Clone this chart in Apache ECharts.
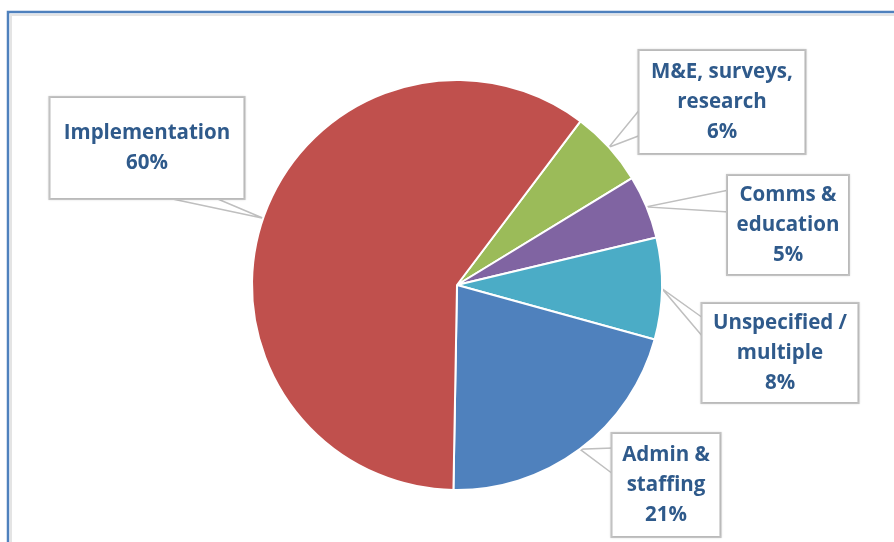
<!DOCTYPE html>
<html>
<head>
<meta charset="utf-8">
<script src="https://cdn.jsdelivr.net/npm/echarts@6/dist/echarts.min.js"></script>
<style>
  html, body { margin: 0; padding: 0; background: #fff; }
  #chart { width: 894px; height: 542px; }
</style>
</head>
<body>
<div id="chart"></div>
<script>
// Budget share by activity type (percent), listed clockwise from the top-right
const categories = ['M&E, surveys,\nresearch', 'Comms &\neducation', 'Unspecified /\nmultiple', 'Admin &\nstaffing', 'Implementation'];
const shares = [6, 5, 8, 21, 60];
const colors = ['#9BBB59', '#8064A2', '#4BACC6', '#4F81BD', '#C0504D'];

// Callout box geometry: centre x, centre y, width, height
const callouts = [
  [722, 102, 165, 102],
  [788, 225, 120, 98],
  [780, 353, 155, 98],
  [666, 485, 107, 102],
  [147, 148, 193, 100]
];
// Where each callout's pointer leaves its box (two points on the box edge)
const tailBases = [
  [[641, 108], [641, 135]],
  [[729, 190], [729, 212]],
  [[703, 318], [703, 337]],
  [[613, 448], [613, 474]],
  [[163, 197], [213, 197]]
];

const chart = echarts.init(document.getElementById('chart'), null, { renderer: 'canvas' });

const data = categories.map((name, i) => ({
  name: name,
  value: shares[i],
  itemStyle: { color: colors[i] },
  label: {
    width: callouts[i][2] - 4,
    padding: [(callouts[i][3] - (name.split('\n').length + 1) * 30) / 2, 2]
  }
}));

// Pointer tip sits on the slice rim at its mid angle, taken from the pie layout
function tipPoint(idx) {
  const layout = chart.getModel().getSeriesByIndex(0).getData().getItemLayout(idx);
  const mid = (layout.startAngle + layout.endAngle) / 2;
  return [layout.cx + layout.r * Math.cos(mid), layout.cy + layout.r * Math.sin(mid)];
}

chart.setOption({
  animation: false,
  graphic: [
    { type: 'rect', shape: { x: 11, y: 15, width: 1000, height: 1000 }, style: { fill: 'none', stroke: '#E4E4E4', lineWidth: 2 } },
    { type: 'rect', shape: { x: 8, y: 12, width: 1000, height: 1000 }, style: { fill: 'none', stroke: '#4F81BD', lineWidth: 2.5 } }
  ],
  series: [{
    type: 'pie',
    center: [457, 285],
    radius: [0, 205],
    startAngle: 53,
    clockwise: true,
    itemStyle: { borderColor: '#fff', borderWidth: 2 },
    label: {
      show: true,
      position: 'outside',
      formatter: p => p.name + '\n' + p.value + '%',
      fontFamily: 'Open Sans',
      fontWeight: 'bold',
      fontSize: 20.5,
      lineHeight: 30,
      color: '#2F5A8B',
      align: 'center',
      overflow: 'none',
      backgroundColor: '#fff',
      borderColor: '#C4C4C4',
      borderWidth: 2,
      shadowColor: 'rgba(0,0,0,0.15)',
      shadowBlur: 2
    },
    labelLine: {
      show: true,
      length: 10,
      length2: 10,
      lineStyle: { color: '#BFBFBF', width: 1.5 }
    },
    labelLayout: params => {
      const i = params.dataIndex;
      const c = callouts[i];
      const tip = tipPoint(i);
      return {
        x: c[0], y: c[1], align: 'center', verticalAlign: 'middle',
        labelLinePoints: [tailBases[i][0], tip, tailBases[i][1]]
      };
    },
    data: data
  }]
});
</script>
</body>
</html>
